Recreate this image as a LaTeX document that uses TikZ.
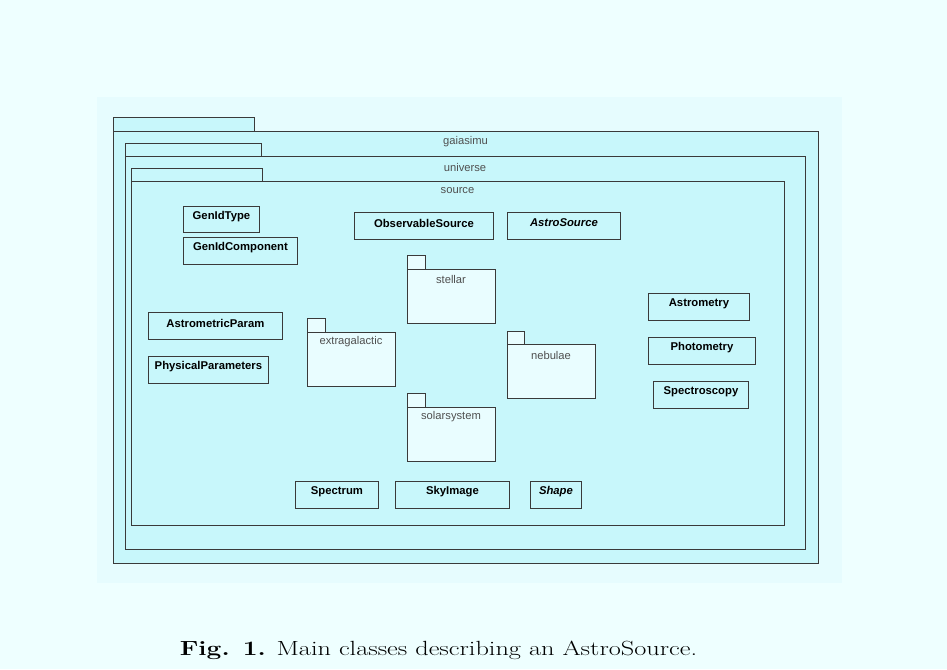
\documentclass[tikz,border=0pt]{standalone}
\usepackage{graphicx}
\usepackage{fontspec}
\newfontfamily\diafont{Liberation Sans}
\definecolor{bgouter}{HTML}{EEFFFF}
\definecolor{bginner}{HTML}{E6FCFE}
\definecolor{boxfill}{HTML}{C8F7FB}
\definecolor{pkgfill}{HTML}{E9FDFF}
\definecolor{edge}{HTML}{3A3A3A}
\definecolor{pkgtext}{HTML}{505050}
\tikzset{
  frame/.style={draw=edge, fill=boxfill, line width=0.9pt},
  minipkg/.style={draw=edge, fill=pkgfill, line width=0.9pt},
  clsbox/.style={draw=edge, fill=boxfill, line width=0.9pt, rectangle, inner sep=0pt, anchor=north west},
  clstext/.style={font=\diafont\bfseries\fontsize{11.3}{13}\selectfont, inner sep=0pt, text=black},
  clsital/.style={font=\diafont\bfseries\itshape\fontsize{11.3}{13}\selectfont, inner sep=0pt, text=black},
  pkgname/.style={font=\diafont\fontsize{11.2}{13}\selectfont, inner sep=0pt, text=pkgtext},
}
\begin{document}
\begin{tikzpicture}[x=1pt, y=-1pt]
\useasboundingbox (0,0) rectangle (947,669);
\fill[bgouter] (0,0) rectangle (947,669);
\fill[bginner] (97,97) rectangle (842,583);
% gaiasimu
\draw[frame] (113,117) rectangle (254,131);
\draw[frame] (113,131) rectangle (818,563);
\node[pkgname] (gaiasimu) at (465.5,142) {gaiasimu};
% universe
\draw[frame] (125,143) rectangle (261,156);
\draw[frame] (125,156) rectangle (805,549);
\node[pkgname] (universe) at (465,167) {universe};
% source
\draw[frame] (131,168) rectangle (262,181);
\draw[frame] (131,181) rectangle (784,525);
\node[pkgname] (source) at (457.5,191) {source};
% sub-packages
\draw[minipkg] (407,255) rectangle (425,269);
\draw[minipkg] (407,269) rectangle (495,323);
\node[pkgname] (stellar) at (451,279) {stellar};
\draw[minipkg] (307,318) rectangle (325,332);
\draw[minipkg] (307,332) rectangle (395,386);
\node[pkgname] (extragalactic) at (351,342) {extragalactic};
\draw[minipkg] (507,331) rectangle (524,344);
\draw[minipkg] (507,344) rectangle (595,398);
\node[pkgname] (nebulae) at (551,355) {nebulae};
\draw[minipkg] (407,393) rectangle (425,407);
\draw[minipkg] (407,407) rectangle (495,461);
\node[pkgname] (solarsystem) at (451,417) {solarsystem};
% classes
\node[clsbox, minimum width=76pt, minimum height=26pt] (genidtype) at (183,206) {};
\node[clstext] (genidtype-t) at ([yshift=-11pt]genidtype.north) {GenIdType};
\node[clsbox, minimum width=114pt, minimum height=27pt] (genidcomp) at (183,237) {};
\node[clstext] (genidcomp-t) at ([yshift=-11pt]genidcomp.north) {GenIdComponent};
\node[clsbox, minimum width=139pt, minimum height=27pt] (obs) at (354,212) {};
\node[clstext] (obs-t) at ([yshift=-11pt]obs.north) {ObservableSource};
\node[clsbox, minimum width=113pt, minimum height=27pt] (astro) at (507,212) {};
\node[clsital] (astro-t) at ([yshift=-11pt]astro.north) {AstroSource};
\node[clsbox, minimum width=134pt, minimum height=27pt] (astrop) at (148,312) {};
\node[clstext] (astrop-t) at ([yshift=-11pt]astrop.north) {AstrometricParam};
\node[clsbox, minimum width=120pt, minimum height=27pt] (phys) at (148,356) {};
\node[clstext] (phys-t) at ([yshift=-11pt]phys.north) {PhysicalParameters};
\node[clsbox, minimum width=101pt, minimum height=27pt] (astrom) at (648,293) {};
\node[clstext] (astrom-t) at ([yshift=-11pt]astrom.north) {Astrometry};
\node[clsbox, minimum width=107pt, minimum height=27pt] (photo) at (648,337) {};
\node[clstext] (photo-t) at ([yshift=-11pt]photo.north) {Photometry};
\node[clsbox, minimum width=95pt, minimum height=27pt] (spectro) at (653,381) {};
\node[clstext] (spectro-t) at ([yshift=-11pt]spectro.north) {Spectroscopy};
\node[clsbox, minimum width=83pt, minimum height=27pt] (spectrum) at (295,481) {};
\node[clstext] (spectrum-t) at ([yshift=-11pt]spectrum.north) {Spectrum};
\node[clsbox, minimum width=114pt, minimum height=27pt] (sky) at (395,481) {};
\node[clstext] (sky-t) at ([yshift=-11pt]sky.north) {SkyImage};
\node[clsbox, minimum width=51pt, minimum height=27pt] (shape) at (530,481) {};
\node[clsital] (shape-t) at ([yshift=-11pt]shape.north) {Shape};
% caption
\node[anchor=base, inner sep=0pt, font=\fontsize{20.5}{24}\selectfont] (caption) at (438.5,655) {\scalebox{1.284}[1]{\textbf{Fig. 1.} Main classes describing an AstroSource.}};
\end{tikzpicture}
\end{document}
